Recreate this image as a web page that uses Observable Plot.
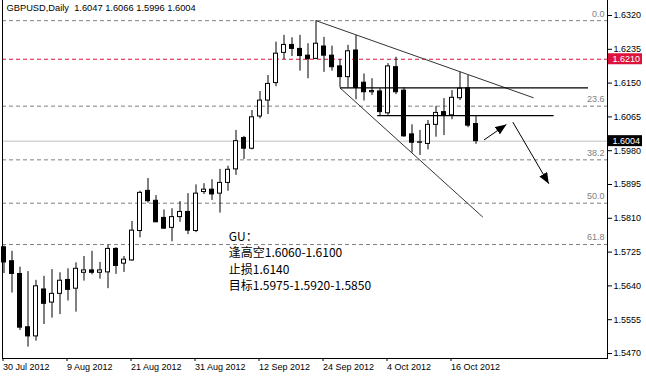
<!DOCTYPE html>
<html><head><meta charset="utf-8">
<script src="https://cdn.jsdelivr.net/npm/d3@7"></script>
<script src="https://cdn.jsdelivr.net/npm/@observablehq/plot@0.6"></script>
<style>body{margin:0;background:#fff}svg{display:block}</style>
</head><body><div id="chart"></div>
<script>
const dates = [
"2012-07-30","2012-07-31","2012-08-01","2012-08-02","2012-08-03","2012-08-06","2012-08-07","2012-08-08","2012-08-09","2012-08-10",
"2012-08-13","2012-08-14","2012-08-15","2012-08-16","2012-08-17","2012-08-20","2012-08-21","2012-08-22","2012-08-23","2012-08-24",
"2012-08-27","2012-08-28","2012-08-29","2012-08-30","2012-08-31","2012-09-03","2012-09-04","2012-09-05","2012-09-06","2012-09-07",
"2012-09-10","2012-09-11","2012-09-12","2012-09-13","2012-09-14","2012-09-17","2012-09-18","2012-09-19","2012-09-20","2012-09-21",
"2012-09-24","2012-09-25","2012-09-26","2012-09-27","2012-09-28","2012-10-01","2012-10-02","2012-10-03","2012-10-04","2012-10-05",
"2012-10-08","2012-10-09","2012-10-10","2012-10-11","2012-10-12","2012-10-15","2012-10-16","2012-10-17","2012-10-18","2012-10-19"];
const open = [1.5737,1.5702,1.5670,1.5536,1.5513,1.5631,1.5598,1.5620,1.5655,1.5633,
1.5673,1.5679,1.5673,1.5674,1.5733,1.5696,1.5704,1.5778,1.5879,1.5854,
1.5811,1.5786,1.5813,1.5826,1.5778,1.5876,1.5882,1.5872,1.5899,1.5933,
1.6012,1.5985,1.6066,1.6106,1.6150,1.6226,1.6246,1.6236,1.6219,1.6211,
1.6242,1.6219,1.6192,1.6165,1.6232,1.6151,1.6127,1.6129,1.6074,1.6190,
1.6131,1.6021,1.6000,1.5997,1.6045,1.6077,1.6069,1.6112,1.6137,1.6047];
const high = [1.5740,1.5727,1.5687,1.5676,1.5654,1.5664,1.5681,1.5673,1.5683,1.5698,
1.5714,1.5727,1.5699,1.5742,1.5736,1.5714,1.5802,1.5878,1.5910,1.5867,
1.5831,1.5834,1.5852,1.5872,1.5894,1.5897,1.5907,1.5933,1.5941,1.6031,
1.6016,1.6081,1.6129,1.6169,1.6253,1.6270,1.6264,1.6270,1.6249,1.6307,
1.6265,1.6243,1.6209,1.6245,1.6270,1.6173,1.6161,1.6136,1.6199,1.6215,
1.6138,1.6045,1.6031,1.6056,1.6091,1.6111,1.6131,1.6177,1.6169,1.6066];
const low = [1.5671,1.5622,1.5528,1.5486,1.5501,1.5543,1.5559,1.5568,1.5602,1.5574,
1.5652,1.5668,1.5657,1.5633,1.5669,1.5674,1.5702,1.5761,1.5848,1.5799,
1.5782,1.5751,1.5800,1.5769,1.5774,1.5870,1.5855,1.5823,1.5878,1.5918,
1.5958,1.5982,1.6060,1.6071,1.6141,1.6209,1.6217,1.6180,1.6161,1.6209,
1.6177,1.6180,1.6138,1.6138,1.6108,1.6105,1.6119,1.6066,1.6069,1.6121,
1.6014,1.5974,1.5968,1.5982,1.6014,1.6018,1.6058,1.6106,1.6038,1.5996];
const close = [1.5699,1.5670,1.5535,1.5513,1.5639,1.5595,1.5620,1.5653,1.5630,1.5683,
1.5679,1.5673,1.5679,1.5733,1.5690,1.5706,1.5779,1.5874,1.5853,1.5800,
1.5784,1.5813,1.5826,1.5779,1.5872,1.5882,1.5870,1.5899,1.5932,1.6004,
1.5985,1.6064,1.6106,1.6148,1.6224,1.6246,1.6236,1.6218,1.6210,1.6249,
1.6219,1.6190,1.6165,1.6230,1.6138,1.6127,1.6130,1.6077,1.6192,1.6127,
1.6016,1.6000,1.6001,1.6045,1.6075,1.6069,1.6113,1.6136,1.6043,1.6004];

const tickDates = ["2012-07-30","2012-08-09","2012-08-21","2012-08-31","2012-09-12","2012-09-24","2012-10-04","2012-10-16"];
const yTicks = [1.6320,1.6235,1.6150,1.6065,1.5980,1.5895,1.5810,1.5725,1.5640,1.5555,1.5470];
const fibLevels = [1.6307,1.6092,1.5957,1.5848,1.5744];
const fibLabels = ["0.0","23.6","38.2","50.0","61.8"];
const alertLevel = 1.6210;
const titleText = "GBPUSD,Daily\u00a0\u00a0" + [open.at(-1), high.at(-1), low.at(-1), close.at(-1)].map(d3.format(".4f")).join(" ");
// bar positions beyond the last date are in bar units
const trendLines = [{x1:39, y1:1.6307, x2:66.2, y2:1.6113},{x1:42, y1:1.6138, x2:59.85, y2:1.5813}];
const levelLines = [{x1:42, y1:1.6138, x2:73.0, y2:1.6138},{x1:46.65, y1:1.6068, x2:68.7, y2:1.6068}];
const arrows = [{x1:60.0, y1:1.6007, x2:62.8, y2:1.6046},{x1:63.6, y1:1.6052, x2:68.1, y2:1.5897}];
const noteLines = ["GU：","逢高空1.6060-1.6100","止损1.6140","目标1.5975-1.5920-1.5850"];
const noteAnchor = {x:28.1, y:1.5782};

const bars = dates.map((d,i)=>({i, date:d, o:open[i], h:high[i], l:low[i], c:close[i], up: close[i]>=open[i]}));
const fmt = d3.timeFormat("%-d %b %Y"), parse = d3.timeParse("%Y-%m-%d");
const tickIdx = tickDates.map(d=>dates.indexOf(d));
const fibs = fibLevels.map((p,j)=>({p, label: fibLabels[j]}));
const tags = [{p: alertLevel, color:"#dc143c"},{p: close.at(-1), color:"#000"}];
const f4 = d3.format(".4f");

// solid triangular arrowhead marker
function solidHead(color) {
  const m = d3.create("svg:marker")
    .attr("viewBox", "-11 -4.5 11 9")
    .attr("markerWidth", 11).attr("markerHeight", 9)
    .attr("markerUnits", "userSpaceOnUse")
    .attr("orient", "auto")
    .attr("fill", color).attr("stroke", "none");
  m.append("path").attr("d", "M0,0L-11,-4.5L-11,4.5Z");
  return m.node();
}

const chart = Plot.plot({
  width: 646, height: 376,
  marginLeft: 2, marginRight: 39, marginTop: 0, marginBottom: 18,
  x: {type:"linear", domain:[-0.1875, 75.4375], axis:null},
  y: {type:"linear", domain:[1.5457426, 1.6357722], axis:null},
  style: {fontFamily:"'Liberation Sans', Arial, sans-serif", fontSize:"9px", background:"#fff", color:"#000"},
  marks: [
    Plot.ruleY(fibs, {y:"p", stroke:"#808080", strokeDasharray:"4,3"}),
    Plot.text(fibs, {y:"p", text:"label", frameAnchor:"right", textAnchor:"end", dx:-3, dy:-7, fill:"#808080"}),
    Plot.ruleY([alertLevel], {stroke:"#dc143c", strokeDasharray:"4,3"}),
    Plot.ruleY([close.at(-1)], {stroke:"#c0c0c0"}),
    Plot.ruleX(bars, {x:"i", y1:"l", y2:"h", stroke:"#000"}),
    Plot.rect(bars, {x1:d=>d.i-0.25, x2:d=>d.i+0.25, y1:"o", y2:"c", fill:d=>d.up?"#fff":"#000", stroke:"#000"}),
    Plot.link(trendLines, {x1:"x1", y1:"y1", x2:"x2", y2:"y2", stroke:"#333", strokeWidth:1}),
    Plot.link(levelLines, {x1:"x1", y1:"y1", x2:"x2", y2:"y2", stroke:"#000", strokeWidth:1.3}),
    Plot.link(arrows, {x1:"x1", y1:"y1", x2:"x2", y2:"y2", stroke:"#000", strokeWidth:1, markerEnd: solidHead}),
    Plot.text([noteLines.join("\n")], {x:()=>noteAnchor.x, y:()=>noteAnchor.y, textAnchor:"start", lineAnchor:"top", lineHeight:1.36, fontSize:12, fontFamily:"'Noto Sans CJK SC', sans-serif", fill:"#000"}),
    Plot.text([titleText], {frameAnchor:"top-left", dx:4, dy:4, textAnchor:"start", lineAnchor:"top", fontSize:9.3, fill:"#000"}),
    Plot.axisX({ticks: tickIdx, tickFormat: i=>fmt(parse(dates[i])), tickSize:3, tickPadding:2, textAnchor:"start", dx:-1, label:null}),
    Plot.axisY({anchor:"right", ticks: yTicks, tickFormat: f4, tickSize:4, tickPadding:2, label:null}),
    Plot.frame({anchor:"left"}),
    Plot.frame({anchor:"bottom"}),
    Plot.frame({anchor:"right"}),
    Plot.rect(tags, {y1:"p", y2:"p", fill:"color", insetLeft:606, insetRight:-35, insetTop:-5.5, insetBottom:-5.5, clip:false}),
    Plot.text(tags, {y:"p", text:d=>f4(d.p), frameAnchor:"right", textAnchor:"start", dx:5, fill:"#fff"})
  ]
});
document.getElementById("chart").appendChild(chart);
</script>
</body></html>
